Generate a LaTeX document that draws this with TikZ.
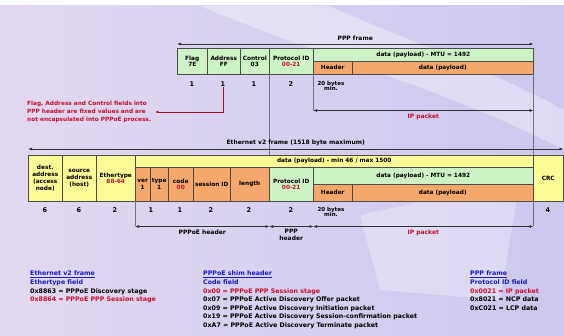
\documentclass[tikz,border=0pt]{standalone}
\usepackage{fontspec}
\setmainfont{DejaVu Sans}
\usepackage{tikz}
\usetikzlibrary{arrows.meta,positioning}
\definecolor{PKgreen}{HTML}{CCF2C6}
\definecolor{PKyellow}{HTML}{FAFA96}
\definecolor{PKorange}{HTML}{F5A86C}
\definecolor{PKred}{HTML}{C8102E}
\definecolor{PKblue}{HTML}{1A1AC8}
\definecolor{PKbgL}{HTML}{E2D9F0}
\definecolor{PKbgM}{HTML}{ECEAF8}
\definecolor{PKbgR}{HTML}{CCC8EE}
\tikzset{
  pk/cell/.style={draw=black!70, line width=0.5pt, anchor=north west, inner sep=0pt, align=center, font=\fontsize{5.8}{6.8}\selectfont\bfseries},
  pk/green/.style={pk/cell, fill=PKgreen},
  pk/yellow/.style={pk/cell, fill=PKyellow},
  pk/orange/.style={pk/cell, fill=PKorange},
  pk/num/.style={font=\fontsize{6.5}{7}\selectfont\bfseries, inner sep=0pt, align=center},
  pk/small/.style={font=\fontsize{5.5}{5.8}\selectfont\bfseries, inner sep=0pt, align=center},
  pk/label/.style={font=\fontsize{6}{7}\selectfont\bfseries, inner sep=1pt, align=center},
  pk/guide/.style={draw=black!55, line width=0.5pt},
  pk/span/.style={{Latex[length=4pt,width=3pt]}-{Latex[length=4pt,width=3pt]}, draw=black!80, line width=0.6pt},
  pk/pointer/.style={-{Latex[length=3pt,width=2.5pt]}, draw=PKred!80!black, line width=0.5pt},
  pk/note/.style={font=\fontsize{5.8}{8}\selectfont\bfseries, text=PKred, align=left, inner sep=0pt, anchor=west},
  pk/legend/.style={font=\fontsize{6.3}{8.6}\selectfont\bfseries, align=left, anchor=north west, inner sep=0pt}
}

\begin{document}
\begin{tikzpicture}[x=1pt, y=-1pt]
\useasboundingbox (0,0) rectangle (564,336);
\fill[white] (0,0) rectangle (564,6);
\fill[left color=PKbgL, middle color=PKbgM, right color=PKbgR] (0,6) rectangle (564,336);
\fill[white, opacity=0.35] (200,6) .. controls (330,60) and (450,90) .. (564,150) -- (564,110) .. controls (470,60) and (380,30) .. (330,6) -- cycle;
\fill[white, opacity=0.3] (360,215) -- (520,180) -- (500,300) -- (380,290) -- cycle;

\node[pk/green, minimum width=30pt, minimum height=26pt] (pflag) at (177,48) {Flag\\7E};
\node[pk/green, minimum width=33pt, minimum height=26pt] (paddr) at (207,48) {Address\\FF};
\node[pk/green, minimum width=29pt, minimum height=26pt] (pctrl) at (240,48) {Control\\03};
\node[pk/green, minimum width=44pt, minimum height=26pt] (pproto) at (269,48) {Protocol ID\\\textcolor{PKred}{00-21}};
\node[pk/green, minimum width=220pt, minimum height=13pt] (pdata) at (313,48) {data (payload) - MTU = 1492};
\node[pk/orange, minimum width=39pt, minimum height=13pt] (phdr) at (313,61) {Header};
\node[pk/orange, minimum width=181pt, minimum height=13pt] (ppay) at (352,61) {data (payload)};

\node[pk/num] (pn1) at (192,84) {1};
\node[pk/num] (pn2) at (223,84) {1};
\node[pk/num] (pn3) at (254,84) {1};
\node[pk/num] (pn4) at (291,84) {2};
\node[pk/small] (pn5) at (331,86) {20 bytes\\min.};

\draw[pk/span] ([yshift=4pt]pflag.north west) -- ([yshift=4pt]pdata.north east)
  node[midway, above=2pt, pk/label] {PPP frame};
\draw[pk/guide] (phdr.south west) -- ++(0,36);
\draw[pk/guide] (pproto.south west) -- (pproto.south west |- 0,155);
\draw[pk/guide] (ppay.south east) -- (ppay.south east |- 0,155);
\draw[pk/span] ([yshift=-36pt]phdr.south west) -- ([yshift=-36pt]ppay.south east)
  node[midway, below=2pt, pk/label, text=PKred] {IP packet};

\node[pk/note] (pnote) at (27,112) {Flag, Address and Control fields into\\PPP header are fixed values and are\\not encapsulated into PPPoE process.};
\draw[pk/pointer] (pn2.south) |- ([xshift=4pt]pnote.east);

\node[pk/yellow, minimum width=34pt, minimum height=46pt] (edst) at (28,155) {dest.\\address\\(access\\node)};
\node[pk/yellow, minimum width=34pt, minimum height=46pt] (esrc) at (62,155) {source\\address\\(host)};
\node[pk/yellow, minimum width=39pt, minimum height=46pt] (etype) at (96,155) {Ethertype\\\textcolor{PKred}{88-64}};
\node[pk/yellow, minimum width=398pt, minimum height=12pt] (eyel) at (135,155) {data (payload) - min 46 / max 1500};
\node[pk/yellow, minimum width=30pt, minimum height=46pt] (ecrc) at (533,155) {CRC};
\node[pk/orange, minimum width=15pt, minimum height=34pt] (ever) at (135,167) {ver\\1};
\node[pk/orange, minimum width=18pt, minimum height=34pt] (etyp) at (150,167) {type\\1};
\node[pk/orange, minimum width=25pt, minimum height=34pt] (ecode) at (168,167) {code\\\textcolor{PKred}{00}};
\node[pk/orange, minimum width=37pt, minimum height=34pt] (esid) at (193,167) {session ID};
\node[pk/orange, minimum width=39pt, minimum height=34pt] (elen) at (230,167) {length};
\node[pk/green, minimum width=44pt, minimum height=34pt] (eproto) at (269,167) {Protocol ID\\\textcolor{PKred}{00-21}};
\node[pk/green, minimum width=220pt, minimum height=17pt] (edata) at (313,167) {data (payload) - MTU = 1492};
\node[pk/orange, minimum width=39pt, minimum height=17pt] (ehdr) at (313,184) {Header};
\node[pk/orange, minimum width=181pt, minimum height=17pt] (epay) at (352,184) {data (payload)};

\node[pk/num] (en1) at (45,210) {6};
\node[pk/num] (en2) at (79,210) {6};
\node[pk/num] (en3) at (115,210) {2};
\node[pk/num] (en4) at (151,210) {1};
\node[pk/num] (en5) at (180,210) {1};
\node[pk/num] (en6) at (211,210) {2};
\node[pk/num] (en7) at (249,210) {2};
\node[pk/num] (en8) at (291,210) {2};
\node[pk/small] (en9) at (331,212) {20 bytes\\min.};
\node[pk/num] (en10) at (548,210) {4};

\draw[pk/span] ([yshift=6pt]edst.north west) -- ([yshift=6pt]ecrc.north east)
  node[midway, above=2pt, pk/label] {Ethernet v2 frame (1518 byte maximum)};
\draw[pk/guide] (ever.south west) -- ++(0,25);
\draw[pk/guide] (epay.south east) -- ++(0,25);
\draw[pk/span] ([yshift=-25pt]ever.south west) -- ([yshift=-25pt]elen.south east)
  node[midway, below=2pt, pk/label] {PPPoE header};
\draw[pk/span] ([yshift=-25pt]eproto.south west) -- ([yshift=-25pt]eproto.south east)
  node[midway, below=1pt, pk/label] {PPP\\header};
\draw[pk/span] ([yshift=-25pt]ehdr.south west) -- ([yshift=-25pt]epay.south east)
  node[midway, below=2pt, pk/label, text=PKred] {IP packet};

\node[pk/legend] (leth) at (30,271) {\textcolor{PKblue}{\underline{Ethernet v2 frame}}\\\textcolor{PKblue}{Ethertype field}\\0x8863 = PPPoE Discovery stage\\\textcolor{PKred}{0x8864 = PPPoE PPP Session stage}};
\node[pk/legend] (lshim) at (203,271) {\textcolor{PKblue}{\underline{PPPoE shim header}}\\\textcolor{PKblue}{Code field}\\\textcolor{PKred}{0x00 = PPPoE PPP Session stage}\\0x07 = PPPoE Active Discovery Offer packet\\0x09 = PPPoE Active Discovery Initiation packet\\0x19 = PPPoE Active Discovery Session-confirmation packet\\0xA7 = PPPoE Active Discovery Terminate packet};
\node[pk/legend] (lppp) at (470,271) {\textcolor{PKblue}{\underline{PPP frame}}\\\textcolor{PKblue}{Protocol ID field}\\\textcolor{PKred}{0x0021 = IP packet}\\0x8021 = NCP data\\0xC021 = LCP data};
\end{tikzpicture}
\end{document}
